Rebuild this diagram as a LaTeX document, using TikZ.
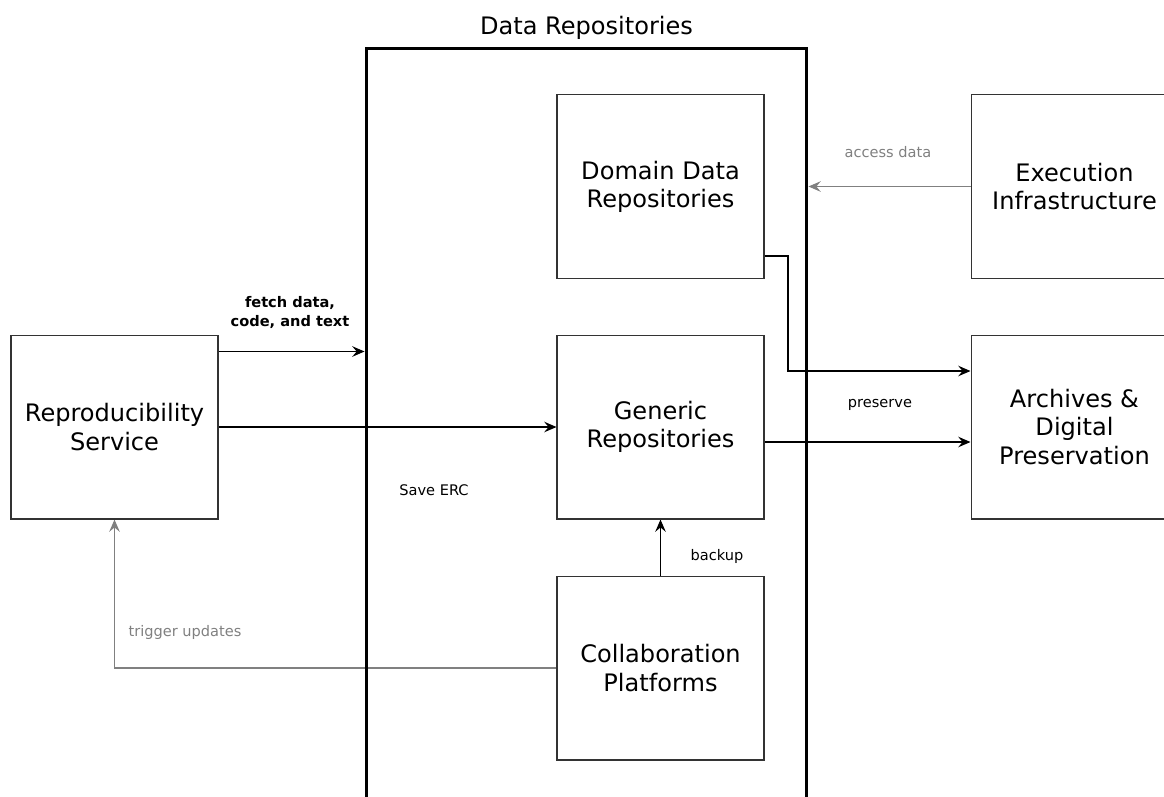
\documentclass[tikz,border=0pt]{standalone}
\usepackage{fontspec}
\setmainfont{DejaVu Sans}
\usepackage{tikz}
\usetikzlibrary{arrows.meta}
\usetikzlibrary{calc}
\definecolor{white}{rgb}{1.0, 1.0, 1.0}
\definecolor{black}{rgb}{0.0, 0.0, 0.0}
\definecolor{boxgray}{RGB}{51,51,51}
\definecolor{linkgray}{RGB}{128,128,128}
\newcommand{\boxfont}{\fontsize{13.7}{16}\selectfont}
\newcommand{\tagfont}{\fontsize{8.3}{10.8}\selectfont}
\pgfdeclarelayer{edgelayer}
\pgfdeclarelayer{nodelayer}
\pgfsetlayers{edgelayer,nodelayer,main}
\tikzstyle{box}=[rectangle,draw=boxgray,line width=0.6pt,minimum width=4.14cm,minimum height=3.68cm,align=center,font=\boxfont]
\tikzstyle{container}=[rectangle,draw=black,line width=1.7pt,minimum width=8.82cm,minimum height=15.84cm]
\tikzstyle{tag}=[font=\tagfont,align=center]
\tikzstyle{link}=[line width=0.6pt,>={Stealth[length=7pt,width=6pt,inset=2.5pt]}]

\begin{document}
\begin{tikzpicture}[x=0.02cm, y=-0.02cm]
        \useasboundingbox (0,0) rectangle (1164,796);
        \begin{pgfonlayer}{nodelayer}
            \node [style = container] (repos) at (586.5, 444) {};
            \node [font=\boxfont] (title) at (586.5, 28) {Data Repositories};

            \node [style = box] (repro) at (114.5, 427) {Reproducibility\\Service};
            \node [style = box] (domain) at (660.5, 186.5) {Domain Data\\Repositories};
            \node [style = box] (generic) at (660.5, 427) {Generic\\Repositories};
            \node [style = box] (collab) at (660.5, 668) {Collaboration\\Platforms};
            \node [style = box] (exec) at (1074.5, 186.5) {Execution\\Infrastructure};
            \node [style = box] (archives) at (1074.5, 427) {Archives \&\\Digital\\Preservation};

            \node [style = tag, font=\tagfont\bfseries] (lfetch) at (290, 312) {fetch data,\\code, and text};
            \node [style = tag] (lsave) at (434, 490) {Save ERC};
            \node [style = tag] (lpreserve) at (880, 405) {preserve};
            \node [style = tag, text=linkgray] (laccess) at (888, 152) {access data};
            \node [style = tag] (lbackup) at (717, 556) {backup};
            \node [style = tag, text=linkgray] (ltrigger) at (185, 632) {trigger updates};
        \end{pgfonlayer}

        \begin{pgfonlayer}{edgelayer}
            \coordinate (fetchout) at ($(repro.north east)+(0,17)$);
            \coordinate (domout) at ($(domain.south east)+(0,-23)$);
            \coordinate (bend) at (788, 371);

            \draw [->, link] (fetchout) to (fetchout -| repos.west);
            \draw [->, link] (repro.east) to (generic.west);

            \draw [->, link] (domout) -| (bend) -- (bend -| archives.west);
            \draw [->, link] ($(generic.east)+(0,15)$) to ($(archives.west)+(0,15)$);

            \draw [->, link, draw=linkgray] (exec.west) to (exec.west -| repos.east);
            \draw [->, link] (collab.north) to (generic.south);
            \draw [->, link, draw=linkgray] (collab.west) -| (repro.south);
        \end{pgfonlayer}
    \end{tikzpicture}
\end{document}
